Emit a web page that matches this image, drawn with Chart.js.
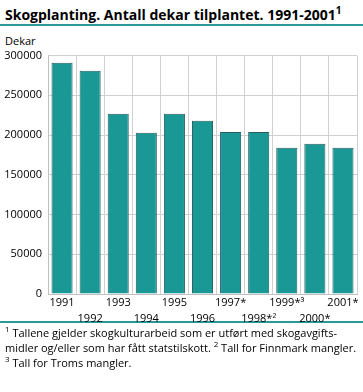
<!DOCTYPE html>
<html lang="no">
<head>
  <meta charset="UTF-8">
  <title>Skogplanting</title>
  <script src="https://cdn.jsdelivr.net/npm/chart.js"></script>
  <style>
    body { margin: 0; width: 363px; height: 392px; position: relative; font-family: "Open Sans", "DejaVu Sans", sans-serif; background: #fff; }
    #title { position: absolute; left: 5px; top: 3px; font-size: 14px; font-weight: bold; color: #000; white-space: nowrap; }
    #title sup { font-size: 10px; }
    .rule { position: absolute; left: 0; width: 363px; height: 2px; background: #2a9a98; }
    #unit { position: absolute; left: 5px; top: 33px; font-size: 11px; }
    #wrap { position: absolute; left: 0; top: 43px; width: 363px; height: 285px; }
    #notes { position: absolute; left: 5px; top: 325px; font-size: 11px; line-height: 15px; color: #000; }
    #notes sup { font-size: 8px; line-height: 0; }
  </style>
</head>
<body>
  <div id="title">Skogplanting. Antall dekar tilplantet. 1991-2001<sup>1</sup></div>
  <div class="rule" style="top:24px"></div>
  <div id="unit">Dekar</div>
  <div class="rule" style="top:321px"></div>
  <div id="wrap"><canvas id="c"></canvas></div>
  <div id="notes">
    <sup>1</sup> Tallene gjelder skogkulturarbeid som er utført med skogavgifts-<br>
    midler og/eller som har fått statstilskott. <sup>2</sup> Tall for Finnmark mangler.<br>
    <sup>3</sup> Tall for Troms mangler.
  </div>

  <script>
    // årstall og verdier (dekar)
    const years = ['1991', '1992', '1993', '1994', '1995', '1996', '1997*', '1998*²', '1999*³', '2000*', '2001*'];
    const dekar = [291000, 281000, 227000, 203000, 227000, 218000, 204000, 204000, 184000, 189000, 184000];

    // annenhver etikett på andre linje
    const labels = years.map((y, i) => i % 2 === 0 ? [y, ''] : ['', y]);

    new Chart(document.getElementById('c'), {
      type: 'bar',
      data: {
        labels: labels,
        datasets: [{
          data: dekar,
          backgroundColor: '#1a9896',
          borderColor: '#255f5e',
          borderWidth: 1,
          barPercentage: 0.75,
          categoryPercentage: 1
        }]
      },
      options: {
        responsive: true,
        maintainAspectRatio: false,
        animation: false,
        layout: { padding: { top: 12, right: 6, left: 0, bottom: 0 } },
        plugins: { legend: { display: false }, tooltip: { enabled: false } },
        scales: {
          x: {
            grid: { color: '#d0d0d0', offset: true, drawTicks: false },
            border: { color: '#c0c0c0' },
            ticks: {
              autoSkip: false, maxRotation: 0, padding: 1,
              color: '#000', font: { family: 'Open Sans', size: 11, lineHeight: 1.45 }
            }
          },
          y: {
            min: 0, max: 300000,
            afterFit: s => { s.width = 48; },
            grid: { color: '#d0d0d0', drawTicks: false },
            border: { color: '#c0c0c0' },
            ticks: {
              stepSize: 50000, padding: 6,
              color: '#000', font: { family: 'Open Sans', size: 11 },
              callback: v => v
            }
          }
        }
      }
    });
  </script>
</body>
</html>
